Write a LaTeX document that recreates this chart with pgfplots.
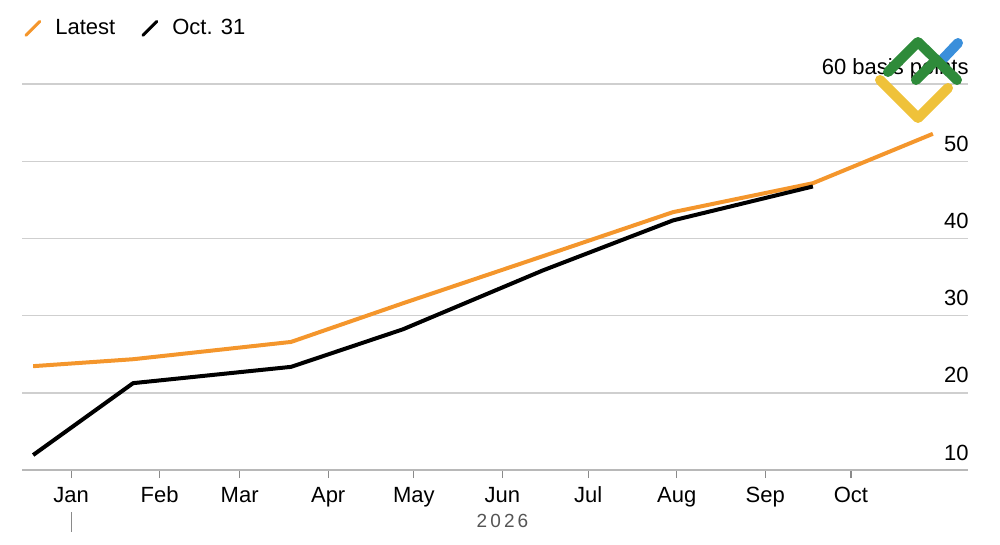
\documentclass[border=0pt]{standalone}
\usepackage{pgfplots}
\pgfplotsset{compat=1.18}
\usepackage{fontspec}
\setmainfont{Liberation Sans}
\definecolor{lorange}{HTML}{F4962C}
\definecolor{gridc}{HTML}{CFCFCF}
\definecolor{axc}{HTML}{B8B8B8}
\definecolor{tickc}{HTML}{8A8A8A}
\definecolor{yeargray}{HTML}{555555}
\definecolor{lgreen}{HTML}{2E8B3A}
\definecolor{lyellow}{HTML}{EFC23A}
\definecolor{lblue}{HTML}{3A8FDB}
\begin{document}
\begin{tikzpicture}
\begin{axis}[
  name=ax,
  scale only axis,
  width=473pt, height=193pt,
  xmin=-17.2, xmax=314,
  ymin=10, ymax=60,
  separate axis lines,
  axis x line*=bottom,
  axis y line*=right,
  y axis line style={draw=none},
  x axis line style={draw=axc, line width=1pt, -},
  xtick={0,31,59,90,120,151,181,212,243,273},
  xticklabels={Jan,Feb,Mar,Apr,May,Jun,Jul,Aug,Sep,Oct},
  x tick style={draw=tickc, line width=0.6pt},
  tick align=outside,
  major tick length=4pt,
  xticklabel style={font=\fontsize{11}{13}\selectfont, anchor=base, yshift=-12pt},
  ytick={10,20,30,40,50,60},
  yticklabels={10,20,30,40,50,60 basis points},
  y tick style={draw=none},
  yticklabel pos=right,
  yticklabel style={font=\fontsize{11}{13}\selectfont, anchor=base east, inner sep=0pt, xshift=-3.5pt, yshift=5pt},
  ymajorgrids,
  grid style={draw=gridc, line width=0.7pt},
  clip=false,
  legend style={at={(rel axis cs:0,1)}, anchor=south west, draw=none, fill=none,
    font=\fontsize{11}{13}\selectfont, xshift=-2pt, yshift=19pt,
    /tikz/every even column/.append style={column sep=11pt},
    /tikz/every odd column/.append style={column sep=5pt}},
  legend columns=-1,
  legend image code/.code={\draw[#1, line width=1.5pt, line cap=round] (0pt,-3.5pt) -- (7pt,3.5pt);},
]
\addplot[lorange, line width=2pt, line join=round] coordinates {
  (-13.3,23.45) (21.7,24.35) (77,26.59) (116.2,31.6) (165.2,37.7)
  (210.7,43.4) (259.7,47.15) (301.7,53.55)
};
\addlegendentry{Latest}
\addplot[black, line width=2pt, line join=round] coordinates {
  (-13.3,11.94) (21.7,21.25) (77,23.36) (116.2,28.23) (165.2,35.86)
  (210.7,42.33) (259.7,46.73)
};
\addlegendentry{Oct. 31}
\node[anchor=base, font=\fontsize{9.5}{11}\selectfont, text=yeargray] at ([yshift=-28.5pt]axis cs:151,10) {2\,0\,2\,6};
\draw[tickc, line width=0.6pt] ([yshift=-21pt]axis cs:0,10) -- ([yshift=-31pt]axis cs:0,10);
\end{axis}
% watermark logo
\begin{scope}[shift={(ax.north west)}, x=0.5pt, y=-0.5pt, line cap=round, line join=round, line width=5pt]
  \draw[lblue] (940-22,62-84) -- (958-22,43-84);
  \draw[lgreen] (888-22,72-84) -- (918-22,42-84) -- (957-22,80-84);
  \draw[lgreen] (916-22,80-84) -- (936-22,60-84);
  \draw[lyellow] (880-22,80-84) -- (918-22,118-84) -- (948-22,88-84);
\end{scope}
\pgfresetboundingbox
\path[use as bounding box] ([xshift=-11pt,yshift=-37.5pt]ax.south west) rectangle ([xshift=16pt,yshift=42pt]ax.north east);
\end{tikzpicture}
\end{document}
